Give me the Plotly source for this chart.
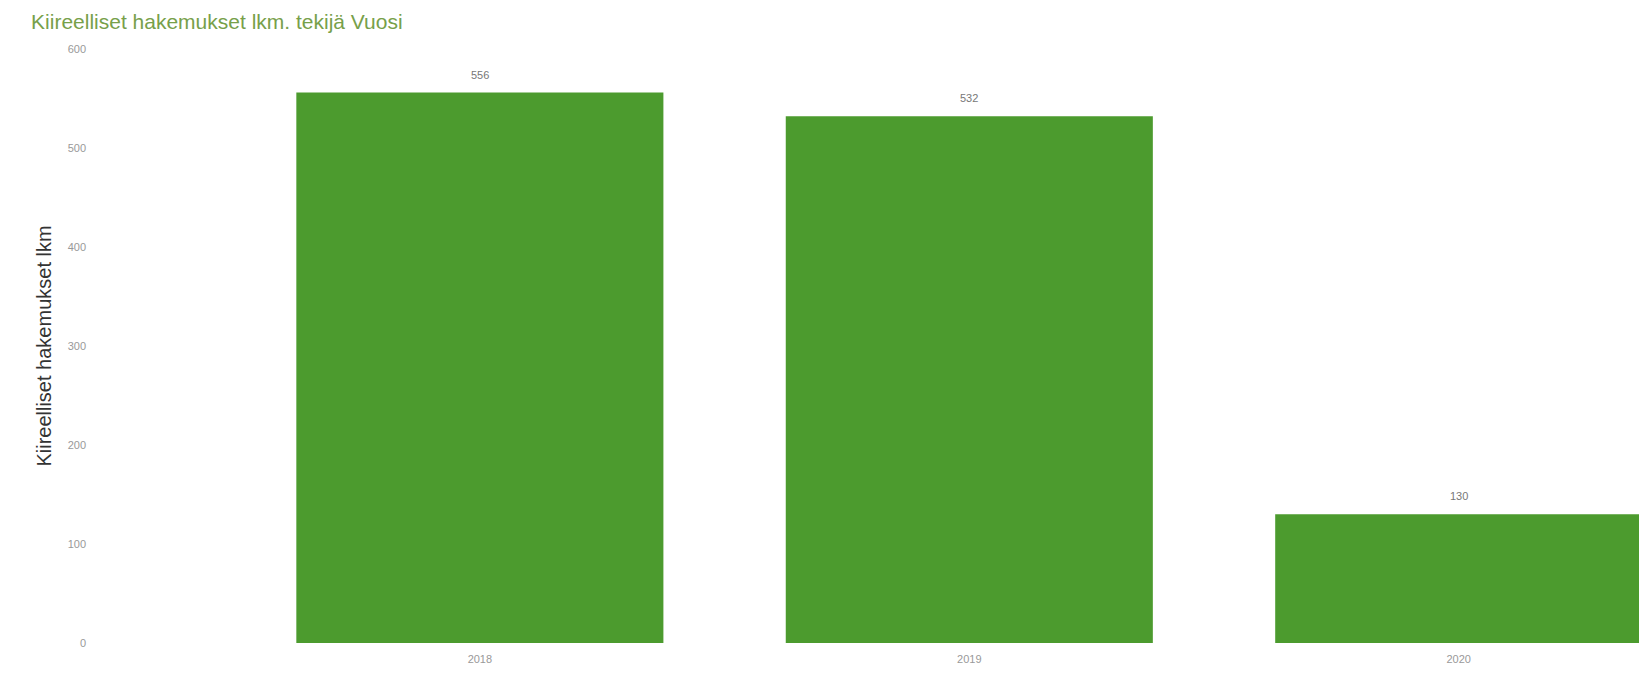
import plotly.graph_objects as go

years = ["2018", "2019", "2020"]
values = [556, 532, 130]
y_ticks = [0, 100, 200, 300, 400, 500, 600]

fig = go.Figure(go.Bar(
    x=years, y=values,
    marker=dict(color="#4C9B2E", line=dict(width=0)),
    width=0.75,
))

for i, v in enumerate(values):
    fig.add_annotation(
        x=i, y=v, xref="x", yref="y", text=str(v), showarrow=False,
        yanchor="bottom", yshift=10,
        font=dict(size=11, color="#777777", family="Liberation Sans"),
    )

fig.update_layout(
    width=1647, height=679,
    paper_bgcolor="white", plot_bgcolor="white",
    margin=dict(l=95, r=0, t=41, b=44),
    showlegend=False,
    title=dict(
        text="Kiireelliset hakemukset lkm. tekijä Vuosi",
        x=0.014, xanchor="left", y=0.98, yanchor="middle",
        font=dict(size=21, color="#77A04A", family="Liberation Sans"),
    ),
    xaxis=dict(
        type="category", range=[-0.770, 2.401],
        showgrid=False, showline=False, zeroline=False,
        ticks="", ticklabelstandoff=8,
        tickfont=dict(size=11, color="#999999", family="Liberation Sans"),
    ),
    yaxis=dict(
        range=[0, 600], tickvals=y_ticks,
        showgrid=False, showline=False, zeroline=False,
        ticks="", ticklen=0, ticklabelstandoff=16,
        tickfont=dict(size=11, color="#999999", family="Liberation Sans"),
        title=dict(text="Kiireelliset hakemukset lkm",
                   font=dict(size=20, color="#333333", family="Liberation Sans"),
                   standoff=10),
    ),
)

fig.write_html("out.html")
